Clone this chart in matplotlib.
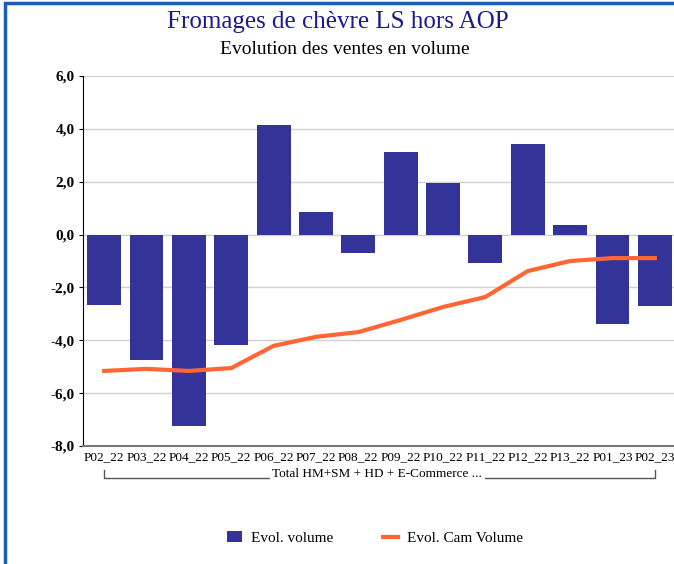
import matplotlib.pyplot as plt
from matplotlib.patches import Patch, Rectangle
from matplotlib.lines import Line2D
from matplotlib.ticker import FuncFormatter
import matplotlib.transforms as mtransforms

plt.rcParams['font.family'] = ['Liberation Serif', 'DejaVu Serif']

periods = ['P02_22', 'P03_22', 'P04_22', 'P05_22', 'P06_22', 'P07_22', 'P08_22',
           'P09_22', 'P10_22', 'P11_22', 'P12_22', 'P13_22', 'P01_23', 'P02_23']
evol_volume = [-2.66, -4.75, -7.24, -4.17, 4.14, 0.86, -0.70,
               3.13, 1.95, -1.08, 3.43, 0.36, -3.38, -2.70]
evol_cam = [-5.16, -5.08, -5.16, -5.05, -4.21, -3.87, -3.69,
            -3.23, -2.74, -2.36, -1.38, -1.00, -0.89, -0.89]
group_label = 'Total HM+SM + HD + E-Commerce ...'

bar_color = '#333399'
line_color = '#ff6633'

fig = plt.figure(figsize=(6.74, 5.64), dpi=100)
ax = fig.add_axes([83 / 674, 1 - 446 / 564, 593 / 674, 370 / 564])

x = list(range(len(periods)))
ax.bar(x, evol_volume, width=0.8, color=bar_color, zorder=2)
ax.plot(x, evol_cam, color=line_color, lw=3, zorder=3)

ax.set_xlim(-0.5, len(periods) - 0.5)
ax.set_ylim(-8, 6)
ax.set_yticks(range(-8, 7, 2))
ax.yaxis.set_major_formatter(FuncFormatter(lambda v, p: f'{v:.1f}'.replace('.', ',')))
ax.grid(axis='y', color='#d0d0d0', lw=1, zorder=0)
ax.set_axisbelow(True)
ax.set_xticks(x)
ax.set_xticklabels(periods, fontsize=9.5)
ax.tick_params(axis='x', length=0, pad=4)
ax.tick_params(axis='y', length=3, labelsize=11, pad=3)
for t in ax.get_yticklabels():
    t.set_fontweight('bold')
for s in ['top', 'right']:
    ax.spines[s].set_visible(False)
ax.spines['left'].set_color('black')
ax.spines['bottom'].set_color('#777777')
ax.spines['bottom'].set_linewidth(1.5)

# category group bracket
tr = mtransforms.blended_transform_factory(ax.transData, ax.transAxes)
yb, yt = -0.0865, -0.065
ax.plot([0, 0, len(periods) - 1, len(periods) - 1], [yt, yb, yb, yt],
        color='#555555', lw=1, transform=tr, clip_on=False)
ax.text((len(periods) - 1) / 2 - 0.05, -0.0757, group_label, transform=tr,
        ha='center', va='center', fontsize=9.5,
        bbox=dict(facecolor='white', edgecolor='none', pad=2))

fig.text(338 / 674, 1 - 22 / 564, 'Fromages de chèvre LS hors AOP',
         ha='center', va='center', fontsize=18, color='#1a1a8c')
fig.text(345 / 674, 1 - 50 / 564, 'Evolution des ventes en volume',
         ha='center', va='center', fontsize=14, color='black')

handles = [Patch(facecolor=bar_color, edgecolor='none'),
           Line2D([0], [0], color=line_color, lw=3)]
fig.legend(handles, ['Evol. volume', 'Evol. Cam Volume'], loc='center',
           bbox_to_anchor=(375 / 674, 1 - 538 / 564), ncol=2, frameon=False,
           fontsize=11, columnspacing=3.2, handlelength=1.0, handletextpad=0.6)

fig.patches.append(Rectangle((5 / 674, -0.1), 2, 1 - 3 / 564 + 0.1,
                             transform=fig.transFigure, fill=False,
                             edgecolor='#1a5fb4', lw=2.5))

fig.savefig('out.png', dpi=100)
